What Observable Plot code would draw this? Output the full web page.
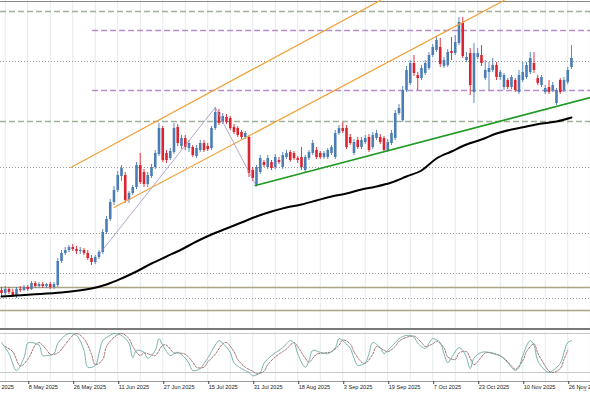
<!DOCTYPE html>
<html><head><meta charset="utf-8">
<script src="https://cdn.jsdelivr.net/npm/d3@7"></script>
<script src="https://cdn.jsdelivr.net/npm/@observablehq/plot@0.6"></script>
<style>
html,body{margin:0;padding:0;background:#fff;}
#chart{width:590px;height:393px;overflow:hidden;position:relative;background:#fff;}
.sep{height:2px;background:#7a7a7a;}
svg{display:block;}
</style></head><body><div id="chart"></div>
<script>
// ---- data (bar index 0 = 30 Apr 2025 ... 152 = 27 Nov 2025) ----
const open = [
 40,37,41,38,34,41,40,43,41,47,
 44,46,44,46,43,45,69,77,80,83,
 81,79,80,77,72,68,73,78,98,111,
 128,140,154,155,130,137,143,165,158,146,
 154,163,176,202,177,172,178,203,184,192,
 182,183,174,180,187,184,182,202,218,208,
 213,212,203,202,198,193,193,160,145,158,
 168,163,168,163,170,163,173,178,177,172,
 173,160,172,177,180,177,173,173,177,173,
 197,202,202,193,177,190,183,188,193,183,
 192,193,192,180,187,192,217,210,240,247,
 267,255,252,257,262,275,280,283,264,265,
 279,277,287,307,270,277,238,273,275,252,
 258,260,265,253,243,250,243,250,238,250,
 253,258,267,252,245,238,243,240,227,250,
 240,248,263];
const close = [
 37,41,38,35,41,40,43,41,47,44,
 46,44,46,43,46,69,77,80,83,81,
 79,80,77,72,68,73,78,98,111,128,
 140,155,162,130,137,143,165,148,146,155,
 163,177,202,170,170,179,202,187,192,183,
 187,175,182,187,180,181,202,218,207,214,
 208,202,198,195,193,197,157,152,163,172,
 165,172,162,173,168,175,177,170,172,170,
 163,173,178,187,173,173,177,180,183,197,
 202,199,183,187,188,183,190,192,180,195,
 197,188,180,188,197,217,222,240,260,267,
 257,252,262,267,275,283,290,266,270,278,
 277,288,308,274,273,245,277,277,267,260,
 262,265,253,258,255,243,253,240,255,258,
 265,272,260,247,253,242,238,245,240,238,
 250,260,272];
const high = [
 43,44,43,41,43,44,45,45,49,49,
 48,48,47,48,48,72,80,83,85,86,
 84,83,82,80,75,75,80,101,114,131,
 144,159,165,158,139,145,168,177,161,158,
 166,180,207,204,180,182,207,206,195,195,
 190,185,185,190,190,187,204,223,221,217,
 216,214,206,204,200,199,195,163,165,175,
 170,175,170,176,173,178,180,180,179,174,
 183,175,180,190,183,179,179,182,185,200,
 205,208,205,196,191,193,193,195,196,198,
 200,196,194,191,200,220,226,244,264,270,
 275,258,265,270,278,286,294,292,273,281,
 293,295,313,313,278,282,287,282,285,270,
 268,272,268,260,257,252,255,252,260,268,
 268,278,278,255,255,245,250,248,242,252,
 253,263,285];
const low = [
 34,35,36,33,32,38,39,39,40,42,
 42,42,42,41,41,43,67,75,78,79,
 76,76,75,70,65,66,71,76,96,109,
 125,138,149,127,127,135,141,146,143,143,
 152,161,174,168,167,170,176,184,181,180,
 178,173,172,178,178,179,180,200,205,206,
 206,200,196,193,191,191,153,149,144,156,
 163,161,160,161,166,161,171,168,170,167,
 160,158,170,175,171,171,171,171,175,171,
 195,197,181,185,175,181,181,186,178,181,
 190,186,178,178,185,190,215,208,238,245,
 254,240,250,255,260,273,278,263,262,263,
 270,275,285,272,268,235,227,271,264,250,
 240,258,250,250,240,241,241,238,236,248,
 251,256,257,245,243,236,236,238,225,236,
 238,246,261];

// moving average, read at sample bars
const maIdx = [0,4,8,16,24,28,32,36,40,44,48,52,56,60,64,68,72,76,80,84,88,92,96,100,104,108,112,116,120,124,128,132,136,140,144,148,152];
const maVal = [34,35,36,38,42,46,52,59,67,74,81,89,96,102,108,114,119,123,126,130,134,137,141,144,148,154,160,172,179,186,191,197,201,204,207,209,213];

// stochastic oscillator (main / signal), read at sample bars
const stIdx = [0,2,4,6,7,8,10,11,12,14,15,17,18,20,22,23,25,26,27,29,30,32,34,35,36,38,39,41,42,43,45,46,47,49,50,51,53,54,55,57,58,59,61,62,64,66,67,69,70,72,74,75,77,78,79,81,82,83,85,87,89,90,91,93,94,95,97,98,99,101,102,103,105,106,108,110,111,113,114,115,117,118,119,120,122,123,124,125,126,128,130,131,133,135,137,138,139,141,142,143,145,146,147,149,150,151,152];
const stVal = [66,49,23,43,65,66,62,46,46,49,65,77,80,77,54,28,31,49,69,77,80,77,65,43,54,51,42,54,72,62,46,49,51,42,34,23,26,34,42,62,69,65,51,35,26,20,15,20,34,46,54,58,69,66,49,28,38,54,51,49,58,72,69,57,42,31,35,49,66,58,49,54,66,72,77,74,65,57,65,72,66,49,35,43,58,54,43,26,42,51,51,49,46,35,23,28,46,69,62,38,23,20,23,34,51,66,69];
const sgIdx = [1,3,5,7,9,10,12,13,15,17,19,20,22,24,25,27,28,30,32,34,35,37,38,40,41,43,44,46,47,49,51,52,54,55,57,59,60,62,63,65,67,68,70,71,73,75,76,78,79,81,82,84,86,88,90,91,93,94,96,97,99,100,102,103,105,106,108,110,112,113,115,116,118,119,121,122,124,125,126,128,129,131,132,134,136,137,139,140,142,143,145,146,147,149,150,151];
const sgVal = [60,52,30,40,62,66,55,48,50,63,77,80,72,48,32,40,60,74,80,72,60,46,50,47,46,62,62,50,50,48,36,28,28,36,48,64,66,52,40,28,22,18,22,32,44,52,56,66,60,42,36,48,50,52,62,70,64,52,36,34,48,60,54,52,60,68,74,76,66,60,64,68,58,44,40,50,52,42,32,44,50,50,48,42,30,25,38,52,64,50,30,22,20,26,40,54];

// horizontal levels
const greenLevels = [319, 209];
const purpleLevels = [300, 240];
const dottedLevels = [269, 163, 97, 57, 32];
const oliveLevels = [43, 20];

// trend lines [bar, price]
const upperChannel = [[18.5, 163], [101, 330]];
const lowerChannel = [[30, 123], [134, 330]];
const zigzag = [[26, 76], [57, 223], [68, 144]];
const supportLine = [[67.7, 145], [157, 233]];

// x axis
const tickIdx = [-5,7,19,31,43,55,67,79,91,103,115,127,139,151];
const tickLabels = ["22 Apr 2025","8 May 2025","26 May 2025","11 Jun 2025","27 Jun 2025","15 Jul 2025","31 Jul 2025","18 Aug 2025","3 Sep 2025","19 Sep 2025","7 Oct 2025","23 Oct 2025","10 Nov 2025","26 Nov 2025"];

// ---- build ----
const candles = open.map((o, i) => ({i, open: o, close: close[i], high: high[i], low: low[i]}));
const ma = maIdx.map((i, k) => ({i, v: maVal[k]}));
const st = stIdx.map((i, k) => ({i, v: stVal[k]}));
const sg = sgIdx.map((i, k) => ({i, v: sgVal[k]}));
const gridIdx = d3.range(-5, 158, 6);
const labelMap = new Map(tickIdx.map((d, k) => [d, tickLabels[k]]));
const xDomain = [-0.267, 157.07];
const BLUE = "#4a7db3", RED = "#dc2430";
const col = d => d.close >= d.open ? BLUE : RED;

const main = Plot.plot({
  width: 590, height: 328, margin: 0,
  x: {domain: xDomain, axis: null},
  y: {domain: [2, 330], axis: null},
  color: {type: "identity"},
  style: {background: "#fff"},
  marks: [
    Plot.ruleX(gridIdx, {stroke: "#e3ebee", strokeWidth: 1}),
    Plot.ruleY([329], {stroke: "#8a8a8a", strokeWidth: 1}),
    Plot.ruleY(greenLevels, {stroke: "#a3b196", strokeWidth: 1.3, strokeDasharray: "6,3"}),
    Plot.ruleY(purpleLevels, {x1: 24.3, x2: 157.07, stroke: "#b58dc9", strokeWidth: 1.3, strokeDasharray: "6,3"}),
    Plot.ruleY(dottedLevels, {stroke: "#9a9a9a", strokeWidth: 1, strokeDasharray: "1,2"}),
    Plot.ruleY(oliveLevels, {stroke: "#a9a585", strokeWidth: 1.6}),
    Plot.ruleX(candles, {x: "i", y1: "low", y2: "high", stroke: col, strokeWidth: 0.9}),
    Plot.ruleX(candles, {x: "i", y1: "open", y2: "close", stroke: col, strokeWidth: 2.6}),
    Plot.line(ma, {x: "i", y: "v", stroke: "#000", strokeWidth: 2, curve: "catmull-rom"}),
    Plot.line(upperChannel, {stroke: "#f0a23a", strokeWidth: 1.3, clip: true}),
    Plot.line(lowerChannel, {stroke: "#f0a23a", strokeWidth: 1.3, clip: true}),
    Plot.line(zigzag, {stroke: "#a291c4", strokeWidth: 0.8}),
    Plot.line(supportLine, {stroke: "#1f9a22", strokeWidth: 1.8, clip: true})
  ]
});

const osc = Plot.plot({
  width: 590, height: 63, marginTop: 2, marginBottom: 12, marginLeft: 0, marginRight: 0,
  x: {domain: xDomain, axis: null},
  y: {domain: [6.15, 81.5], axis: null},
  style: {background: "#fff", fontFamily: "Liberation Sans, Arial, sans-serif", fontSize: "5.6px", color: "#222"},
  marks: [
    Plot.ruleX(gridIdx, {stroke: "#e3ebee", strokeWidth: 1}),
    Plot.ruleY([80, 20], {stroke: "#c9c9c9", strokeWidth: 1}),
    Plot.line(sg, {x: "i", y: "v", stroke: "#8a4a4a", strokeWidth: 0.8, strokeDasharray: "2,1.5", curve: "catmull-rom", clip: true}),
    Plot.line(st, {x: "i", y: "v", stroke: "#6aa9a5", strokeWidth: 0.9, curve: "catmull-rom", clip: true}),
    Plot.frame({anchor: "bottom", stroke: "#9a9a9a"}),
    Plot.axisX(tickIdx, {tickFormat: d => labelMap.get(d), textAnchor: "start", tickSize: 3, tickPadding: 1, dx: 1, fontSize: 5.6, stroke: "#444", fill: "#222"})
  ]
});

const root = document.getElementById("chart");
root.append(main);
const sep = document.createElement("div");
sep.className = "sep";
root.append(sep);
root.append(osc);
</script></body></html>
